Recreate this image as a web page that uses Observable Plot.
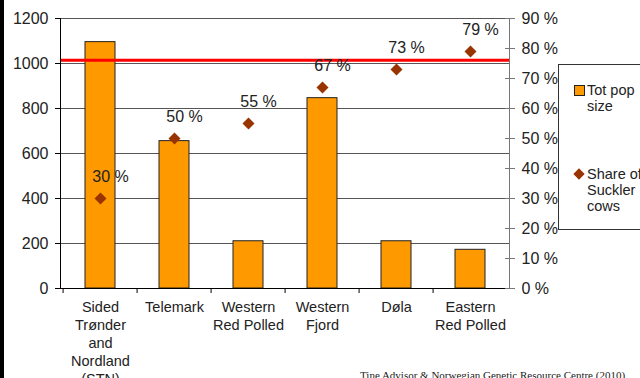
<!DOCTYPE html>
<html>
<head>
<meta charset="utf-8">
<script src="https://cdn.jsdelivr.net/npm/d3@7"></script>
<script src="https://cdn.jsdelivr.net/npm/@observablehq/plot@0.6"></script>
<style>
  html, body { margin: 0; padding: 0; background: #fff; }
  #wrap { position: relative; width: 640px; height: 378px; overflow: hidden; background: #fff; }
  #edge { position: absolute; left: 0; top: 0; width: 4px; height: 378px; background: #000; }
  #legend {
    position: absolute; left: 558px; top: 64px; width: 110px; height: 164px;
    border: 1px solid #333; background: #fff;
    font-family: "Liberation Sans", Arial, sans-serif; font-size: 14.5px; line-height: 16px; color: #222;
  }
  .item { position: absolute; left: 28px; }
  .swatch { position: absolute; left: 15px; width: 9px; height: 9px; background: #ff9900; border: 1px solid #222; }
  .diamond { position: absolute; left: 16px; width: 8px; height: 8px; background: #993300; transform: rotate(45deg); }
  #source {
    position: absolute; left: 360px; top: 369px; white-space: nowrap;
    font-family: "Liberation Serif", "Times New Roman", serif; font-size: 11px; color: #222;
  }
</style>
</head>
<body>
<div id="wrap">
  <div id="chart"></div>
  <div id="edge"></div>
  <div id="legend">
    <div class="swatch" style="top:20px"></div>
    <div class="item" style="top:17px">Tot pop<br>size</div>
    <div class="diamond" style="top:105px"></div>
    <div class="item" style="top:101px">Share of<br>Suckler<br>cows</div>
  </div>
  <div id="source">Tine Advisor &amp; Norwegian Genetic Resource Centre (2010)</div>
</div>
<script>
// Breeds, total population size and share of suckler cows (%)
const breeds = ["STN", "Telemark", "Western Red Polled", "Western Fjord", "Døla", "Eastern Red Polled"];
const breedLabels = ["Sided\nTrønder\nand\nNordland\n(STN)", "Telemark", "Western\nRed Polled", "Western\nFjord", "Døla", "Eastern\nRed Polled"];
const popSize = [1095, 655, 210, 846, 210, 172];
const sucklerShare = [30, 50, 55, 67, 73, 79];
const popTicks = [0, 200, 400, 600, 800, 1000, 1200];
const shareTicks = [0, 10, 20, 30, 40, 50, 60, 70, 80, 90];
const thresholdPop = 1015;

const data = breeds.map((b, i) => ({breed: b, pop: popSize[i], share: sucklerShare[i]}));
const labelOf = new Map(breeds.map((b, i) => [b, breedLabels[i]]));

// secondary (percent) axis shares the population scale: 90 % ↔ 1200
const k = 1200 / 90;

const W = 640, H = 378, mL = 60, mR = 131, mT = 18, mB = 90;
const padIn = 0.6, padOut = 0.3;
const step = (W - mL - mR) / (breeds.length - padIn + 2 * padOut);

const font = "'Liberation Sans', Arial, sans-serif";

const chart = Plot.plot({
  width: W, height: H,
  marginLeft: mL, marginRight: mR, marginTop: mT, marginBottom: mB,
  style: {fontFamily: font, fontSize: "16px", color: "#222", background: "transparent"},
  x: {domain: breeds, paddingInner: padIn, paddingOuter: padOut, axis: null},
  y: {domain: [0, 1200], axis: null},
  marks: [
    Plot.ruleY(popTicks.slice(1), {stroke: "#555", strokeWidth: 1}),
    Plot.barY(data, {x: "breed", y: "pop", fill: "#ff9900", stroke: "#222", strokeWidth: 1}),
    Plot.ruleY([0], {stroke: "#000"}),
    Plot.ruleY([thresholdPop], {stroke: "#ff0000", strokeWidth: 3}),
    Plot.frame({anchor: "left", stroke: "#000"}),
    Plot.frame({anchor: "right", stroke: "#777"}),
    // left axis: population size
    Plot.axisY(popTicks, {anchor: "left", label: null, tickSize: 5, tickPadding: 7, fontSize: 16, stroke: "#000",
      tickFormat: v => String(v)}),
    // right axis: share of suckler cows
    Plot.axisY(shareTicks.map(s => s * k), {
      anchor: "right", label: null, tickSize: 10, dx: -5, tickPadding: 7, fontSize: 16, stroke: "#777",
      tickFormat: v => Math.round(v / k) + " %"
    }),
    // category separators below the baseline
    Plot.axisX({anchor: "bottom", label: null, tickSize: 5, dx: -step / 2, tickFormat: () => "", stroke: "#000"}),
    // category names
    Plot.axisX({anchor: "bottom", label: null, tickSize: 0, tickPadding: 11, fontSize: 14.5, lineHeight: 1.24,
      tickFormat: d => labelOf.get(d)}),
    Plot.dot(data, {x: "breed", y: d => d.share * k, symbol: "diamond2", r: 5.4, fill: "#993300", stroke: "none"}),
    Plot.text(data, {x: "breed", y: d => d.share * k, text: d => d.share + " %", dx: 10, dy: -22, fontSize: 16, fill: "#222"})
  ]
});
document.getElementById("chart").append(chart);
</script>
</body>
</html>
